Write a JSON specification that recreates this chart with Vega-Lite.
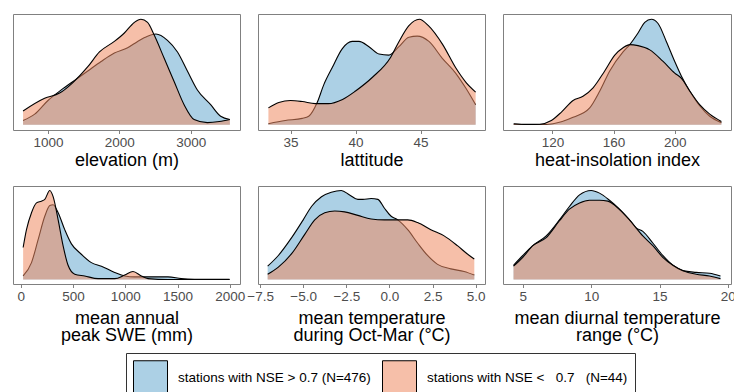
{
"$schema": "https://vega.github.io/schema/vega-lite/v6.json",
"padding": {"left": 12, "top": 13, "right": 0, "bottom": 0},
"bounds": "flush",
"columns": 3,
"spacing": {"row": 56, "column": 18},
"datasets": {
"d": [
{"p":"elev","g":"hi","x":651,"y":0.04},{"p":"elev","g":"hi","x":814,"y":0.10},{"p":"elev","g":"hi","x":1000,"y":0.23},{"p":"elev","g":"hi","x":1186,"y":0.33},{"p":"elev","g":"hi","x":1372,"y":0.42},{"p":"elev","g":"hi","x":1558,"y":0.51},{"p":"elev","g":"hi","x":1744,"y":0.60},{"p":"elev","g":"hi","x":1930,"y":0.68},{"p":"elev","g":"hi","x":2116,"y":0.73},{"p":"elev","g":"hi","x":2256,"y":0.79},{"p":"elev","g":"hi","x":2395,"y":0.84},{"p":"elev","g":"hi","x":2512,"y":0.86},{"p":"elev","g":"hi","x":2674,"y":0.80},{"p":"elev","g":"hi","x":2814,"y":0.69},{"p":"elev","g":"hi","x":2953,"y":0.51},{"p":"elev","g":"hi","x":3093,"y":0.33},{"p":"elev","g":"hi","x":3279,"y":0.19},{"p":"elev","g":"hi","x":3419,"y":0.08},{"p":"elev","g":"hi","x":3548,"y":0.05},
{"p":"elev","g":"lo","x":651,"y":0.13},{"p":"elev","g":"lo","x":953,"y":0.25},{"p":"elev","g":"lo","x":1163,"y":0.30},{"p":"elev","g":"lo","x":1349,"y":0.40},{"p":"elev","g":"lo","x":1558,"y":0.55},{"p":"elev","g":"lo","x":1721,"y":0.69},{"p":"elev","g":"lo","x":1930,"y":0.79},{"p":"elev","g":"lo","x":2070,"y":0.87},{"p":"elev","g":"lo","x":2209,"y":0.97},{"p":"elev","g":"lo","x":2302,"y":1.0},{"p":"elev","g":"lo","x":2395,"y":0.97},{"p":"elev","g":"lo","x":2488,"y":0.85},{"p":"elev","g":"lo","x":2628,"y":0.63},{"p":"elev","g":"lo","x":2767,"y":0.41},{"p":"elev","g":"lo","x":2907,"y":0.19},{"p":"elev","g":"lo","x":3047,"y":0.05},{"p":"elev","g":"lo","x":3233,"y":0.02},{"p":"elev","g":"lo","x":3400,"y":0.03},{"p":"elev","g":"lo","x":3548,"y":0.05},
{"p":"lat","g":"hi","x":33.3,"y":0.01},{"p":"lat","g":"hi","x":34.6,"y":0.04},{"p":"lat","g":"hi","x":35.9,"y":0.06},{"p":"lat","g":"hi","x":36.4,"y":0.08},{"p":"lat","g":"hi","x":37.05,"y":0.21},{"p":"lat","g":"hi","x":37.56,"y":0.38},{"p":"lat","g":"hi","x":38.2,"y":0.54},{"p":"lat","g":"hi","x":38.97,"y":0.72},{"p":"lat","g":"hi","x":39.74,"y":0.79},{"p":"lat","g":"hi","x":40.26,"y":0.79},{"p":"lat","g":"hi","x":41.03,"y":0.74},{"p":"lat","g":"hi","x":41.8,"y":0.67},{"p":"lat","g":"hi","x":42.56,"y":0.66},{"p":"lat","g":"hi","x":43.33,"y":0.74},{"p":"lat","g":"hi","x":44.1,"y":0.83},{"p":"lat","g":"hi","x":44.74,"y":0.84},{"p":"lat","g":"hi","x":45.64,"y":0.79},{"p":"lat","g":"hi","x":46.67,"y":0.63},{"p":"lat","g":"hi","x":47.69,"y":0.49},{"p":"lat","g":"hi","x":48.46,"y":0.35},{"p":"lat","g":"hi","x":49.23,"y":0.19},
{"p":"lat","g":"lo","x":33.3,"y":0.16},{"p":"lat","g":"lo","x":34.1,"y":0.21},{"p":"lat","g":"lo","x":35.0,"y":0.23},{"p":"lat","g":"lo","x":35.9,"y":0.22},{"p":"lat","g":"lo","x":36.9,"y":0.20},{"p":"lat","g":"lo","x":37.9,"y":0.20},{"p":"lat","g":"lo","x":39.0,"y":0.24},{"p":"lat","g":"lo","x":40.0,"y":0.32},{"p":"lat","g":"lo","x":41.3,"y":0.45},{"p":"lat","g":"lo","x":42.7,"y":0.64},{"p":"lat","g":"lo","x":43.3,"y":0.78},{"p":"lat","g":"lo","x":44.1,"y":0.94},{"p":"lat","g":"lo","x":44.9,"y":1.0},{"p":"lat","g":"lo","x":45.6,"y":0.94},{"p":"lat","g":"lo","x":46.7,"y":0.76},{"p":"lat","g":"lo","x":47.7,"y":0.54},{"p":"lat","g":"lo","x":48.5,"y":0.40},{"p":"lat","g":"lo","x":49.23,"y":0.31},
{"p":"heat","g":"hi","x":94.7,"y":0.005},{"p":"heat","g":"hi","x":111.7,"y":0.002},{"p":"heat","g":"hi","x":120.4,"y":0.01},{"p":"heat","g":"hi","x":133.5,"y":0.07},{"p":"heat","g":"hi","x":144.4,"y":0.16},{"p":"heat","g":"hi","x":151,"y":0.32},{"p":"heat","g":"hi","x":157.5,"y":0.51},{"p":"heat","g":"hi","x":166.2,"y":0.69},{"p":"heat","g":"hi","x":170.6,"y":0.76},{"p":"heat","g":"hi","x":176,"y":0.87},{"p":"heat","g":"hi","x":180.4,"y":0.97},{"p":"heat","g":"hi","x":184.7,"y":1.0},{"p":"heat","g":"hi","x":189.1,"y":0.96},{"p":"heat","g":"hi","x":194.5,"y":0.79},{"p":"heat","g":"hi","x":200,"y":0.60},{"p":"heat","g":"hi","x":204.4,"y":0.46},{"p":"heat","g":"hi","x":209.8,"y":0.32},{"p":"heat","g":"hi","x":216.3,"y":0.18},{"p":"heat","g":"hi","x":222.9,"y":0.08},{"p":"heat","g":"hi","x":230.5,"y":0.02},
{"p":"heat","g":"lo","x":94.7,"y":0.01},{"p":"heat","g":"lo","x":103,"y":0.003},{"p":"heat","g":"lo","x":111.7,"y":0.005},{"p":"heat","g":"lo","x":119.3,"y":0.04},{"p":"heat","g":"lo","x":125.9,"y":0.12},{"p":"heat","g":"lo","x":133.5,"y":0.23},{"p":"heat","g":"lo","x":140,"y":0.27},{"p":"heat","g":"lo","x":146.6,"y":0.35},{"p":"heat","g":"lo","x":154.2,"y":0.51},{"p":"heat","g":"lo","x":160.8,"y":0.66},{"p":"heat","g":"lo","x":166.2,"y":0.73},{"p":"heat","g":"lo","x":170.6,"y":0.76},{"p":"heat","g":"lo","x":176,"y":0.75},{"p":"heat","g":"lo","x":183.7,"y":0.71},{"p":"heat","g":"lo","x":192.4,"y":0.60},{"p":"heat","g":"lo","x":200,"y":0.49},{"p":"heat","g":"lo","x":204.4,"y":0.44},{"p":"heat","g":"lo","x":209.8,"y":0.32},{"p":"heat","g":"lo","x":216.3,"y":0.19},{"p":"heat","g":"lo","x":222.9,"y":0.10},{"p":"heat","g":"lo","x":230.5,"y":0.03},
{"p":"swe","g":"hi","x":22,"y":0.04},{"p":"swe","g":"hi","x":102,"y":0.19},{"p":"swe","g":"hi","x":166,"y":0.45},{"p":"swe","g":"hi","x":229,"y":0.71},{"p":"swe","g":"hi","x":277,"y":0.83},{"p":"swe","g":"hi","x":309,"y":0.84},{"p":"swe","g":"hi","x":357,"y":0.75},{"p":"swe","g":"hi","x":420,"y":0.56},{"p":"swe","g":"hi","x":484,"y":0.40},{"p":"swe","g":"hi","x":564,"y":0.30},{"p":"swe","g":"hi","x":675,"y":0.19},{"p":"swe","g":"hi","x":771,"y":0.15},{"p":"swe","g":"hi","x":898,"y":0.08},{"p":"swe","g":"hi","x":994,"y":0.04},{"p":"swe","g":"hi","x":1089,"y":0.03},{"p":"swe","g":"hi","x":1248,"y":0.03},{"p":"swe","g":"hi","x":1408,"y":0.03},{"p":"swe","g":"hi","x":1535,"y":0.01},{"p":"swe","g":"hi","x":1662,"y":0.003},{"p":"swe","g":"hi","x":1997,"y":0.002},
{"p":"swe","g":"lo","x":22,"y":0.36},{"p":"swe","g":"lo","x":54,"y":0.56},{"p":"swe","g":"lo","x":102,"y":0.75},{"p":"swe","g":"lo","x":150,"y":0.86},{"p":"swe","g":"lo","x":197,"y":0.88},{"p":"swe","g":"lo","x":229,"y":0.90},{"p":"swe","g":"lo","x":277,"y":1.0},{"p":"swe","g":"lo","x":309,"y":0.93},{"p":"swe","g":"lo","x":357,"y":0.67},{"p":"swe","g":"lo","x":404,"y":0.38},{"p":"swe","g":"lo","x":452,"y":0.16},{"p":"swe","g":"lo","x":516,"y":0.06},{"p":"swe","g":"lo","x":611,"y":0.04},{"p":"swe","g":"lo","x":739,"y":0.01},{"p":"swe","g":"lo","x":898,"y":0.01},{"p":"swe","g":"lo","x":994,"y":0.05},{"p":"swe","g":"lo","x":1073,"y":0.09},{"p":"swe","g":"lo","x":1153,"y":0.04},{"p":"swe","g":"lo","x":1217,"y":0.01},{"p":"swe","g":"lo","x":1408,"y":0.0},{"p":"swe","g":"lo","x":1997,"y":0.0},
{"p":"temp","g":"hi","x":-7.06,"y":0.15},{"p":"temp","g":"hi","x":-6.44,"y":0.27},{"p":"temp","g":"hi","x":-5.67,"y":0.47},{"p":"temp","g":"hi","x":-5.0,"y":0.67},{"p":"temp","g":"hi","x":-4.52,"y":0.82},{"p":"temp","g":"hi","x":-3.94,"y":0.93},{"p":"temp","g":"hi","x":-3.37,"y":0.98},{"p":"temp","g":"hi","x":-2.79,"y":1.0},{"p":"temp","g":"hi","x":-2.31,"y":0.95},{"p":"temp","g":"hi","x":-1.83,"y":0.90},{"p":"temp","g":"hi","x":-1.54,"y":0.90},{"p":"temp","g":"hi","x":-1.06,"y":0.91},{"p":"temp","g":"hi","x":-0.67,"y":0.90},{"p":"temp","g":"hi","x":-0.29,"y":0.80},{"p":"temp","g":"hi","x":0.10,"y":0.71},{"p":"temp","g":"hi","x":0.48,"y":0.67},{"p":"temp","g":"hi","x":1.06,"y":0.56},{"p":"temp","g":"hi","x":1.63,"y":0.41},{"p":"temp","g":"hi","x":2.21,"y":0.27},{"p":"temp","g":"hi","x":2.79,"y":0.17},{"p":"temp","g":"hi","x":3.56,"y":0.12},{"p":"temp","g":"hi","x":4.33,"y":0.09},{"p":"temp","g":"hi","x":4.92,"y":0.05},
{"p":"temp","g":"lo","x":-7.06,"y":0.06},{"p":"temp","g":"lo","x":-6.44,"y":0.14},{"p":"temp","g":"lo","x":-5.67,"y":0.29},{"p":"temp","g":"lo","x":-4.9,"y":0.51},{"p":"temp","g":"lo","x":-4.33,"y":0.67},{"p":"temp","g":"lo","x":-3.75,"y":0.75},{"p":"temp","g":"lo","x":-3.17,"y":0.77},{"p":"temp","g":"lo","x":-2.6,"y":0.76},{"p":"temp","g":"lo","x":-1.83,"y":0.72},{"p":"temp","g":"lo","x":-1.06,"y":0.68},{"p":"temp","g":"lo","x":-0.29,"y":0.67},{"p":"temp","g":"lo","x":0.48,"y":0.67},{"p":"temp","g":"lo","x":1.06,"y":0.67},{"p":"temp","g":"lo","x":1.63,"y":0.64},{"p":"temp","g":"lo","x":2.4,"y":0.56},{"p":"temp","g":"lo","x":3.17,"y":0.49},{"p":"temp","g":"lo","x":3.94,"y":0.38},{"p":"temp","g":"lo","x":4.5,"y":0.29},{"p":"temp","g":"lo","x":4.92,"y":0.23},
{"p":"dtr","g":"hi","x":4.32,"y":0.16},{"p":"dtr","g":"hi","x":5.0,"y":0.27},{"p":"dtr","g":"hi","x":5.73,"y":0.38},{"p":"dtr","g":"hi","x":6.71,"y":0.49},{"p":"dtr","g":"hi","x":7.68,"y":0.67},{"p":"dtr","g":"hi","x":8.41,"y":0.82},{"p":"dtr","g":"hi","x":9.15,"y":0.95},{"p":"dtr","g":"hi","x":10.0,"y":1.0},{"p":"dtr","g":"hi","x":10.61,"y":0.97},{"p":"dtr","g":"hi","x":11.34,"y":0.89},{"p":"dtr","g":"hi","x":12.07,"y":0.79},{"p":"dtr","g":"hi","x":12.8,"y":0.67},{"p":"dtr","g":"hi","x":13.29,"y":0.58},{"p":"dtr","g":"hi","x":13.78,"y":0.54},{"p":"dtr","g":"hi","x":14.51,"y":0.41},{"p":"dtr","g":"hi","x":15.24,"y":0.27},{"p":"dtr","g":"hi","x":15.98,"y":0.16},{"p":"dtr","g":"hi","x":16.71,"y":0.10},{"p":"dtr","g":"hi","x":17.68,"y":0.08},{"p":"dtr","g":"hi","x":18.66,"y":0.07},{"p":"dtr","g":"hi","x":19.46,"y":0.04},
{"p":"dtr","g":"lo","x":4.32,"y":0.15},{"p":"dtr","g":"lo","x":5.0,"y":0.25},{"p":"dtr","g":"lo","x":5.73,"y":0.38},{"p":"dtr","g":"lo","x":6.71,"y":0.47},{"p":"dtr","g":"lo","x":7.68,"y":0.66},{"p":"dtr","g":"lo","x":8.41,"y":0.79},{"p":"dtr","g":"lo","x":9.15,"y":0.86},{"p":"dtr","g":"lo","x":9.88,"y":0.89},{"p":"dtr","g":"lo","x":10.61,"y":0.89},{"p":"dtr","g":"lo","x":11.22,"y":0.88},{"p":"dtr","g":"lo","x":11.83,"y":0.82},{"p":"dtr","g":"lo","x":12.8,"y":0.67},{"p":"dtr","g":"lo","x":13.78,"y":0.49},{"p":"dtr","g":"lo","x":14.51,"y":0.38},{"p":"dtr","g":"lo","x":15.24,"y":0.25},{"p":"dtr","g":"lo","x":15.98,"y":0.16},{"p":"dtr","g":"lo","x":16.71,"y":0.10},{"p":"dtr","g":"lo","x":17.68,"y":0.06},{"p":"dtr","g":"lo","x":18.66,"y":0.04},{"p":"dtr","g":"lo","x":19.46,"y":0.01}
]
},
"data": {"name": "d"},
"resolve": {"scale": {"x": "independent", "y": "independent", "fill": "shared"}},
"concat": [
{"width": 227, "height": 116, "transform": [{"filter": "datum.p=='elev'"}],
 "encoding": {"x": {"field": "x", "type": "quantitative", "scale": {"domain": [510, 3690], "nice": false, "zero": false}, "axis": {"values": [1000, 2000, 3000], "format": "d", "title": "elevation (m)"}},
   "y": {"field": "y", "type": "quantitative", "scale": {"domain": [-0.05, 1.05], "nice": false, "zero": false}, "axis": null}},
 "layer": [
  {"transform": [{"filter": "datum.g=='hi'"}], "mark": {"type": "area", "interpolate": "monotone", "fillOpacity": 0.55}, "encoding": {"y2": {"datum": 0}, "fill": {"field": "g", "type": "nominal", "scale": {"domain": ["hi", "lo"], "range": ["#67a9cf", "#ef8a62"]},
     "legend": {"title": null, "orient": "none", "legendX": 113, "legendY": 339, "direction": "horizontal",
       "labelExpr": "datum.value=='hi' ? 'stations with NSE > 0.7 (N=476)' : 'stations with NSE <\u00a0\u00a0 0.7\u00a0\u00a0 (N=44)'",
       "symbolType": "square", "symbolSize": 1156, "symbolOpacity": 1, "symbolStrokeColor": "black", "symbolStrokeWidth": 1,
       "labelFont": "Liberation Sans", "labelFontSize": 13.5, "labelColor": "black", "labelOffset": 10, "columnPadding": 9, "labelLimit": 400,
       "padding": 7, "strokeColor": "#333333",
       "encode": {"symbols": {"update": {"fillOpacity": {"value": 0.55}, "strokeOpacity": {"value": 1}, "stroke": {"value": "black"}}}}}}}},
  {"transform": [{"filter": "datum.g=='hi'"}], "mark": {"type": "line", "interpolate": "monotone", "color": "black", "strokeWidth": 1.1}, "encoding": {}},
  {"transform": [{"filter": "datum.g=='lo'"}], "mark": {"type": "area", "interpolate": "monotone", "fillOpacity": 0.55}, "encoding": {"y2": {"datum": 0}, "fill": {"field": "g", "type": "nominal"}}},
  {"transform": [{"filter": "datum.g=='lo'"}], "mark": {"type": "line", "interpolate": "monotone", "color": "black", "strokeWidth": 1.1}, "encoding": {}}
 ]},
{"width": 227, "height": 116, "transform": [{"filter": "datum.p=='lat'"}],
 "encoding": {"x": {"field": "x", "type": "quantitative", "scale": {"domain": [32.5, 49.95], "nice": false, "zero": false}, "axis": {"values": [35, 40, 45], "title": "lattitude"}},
   "y": {"field": "y", "type": "quantitative", "scale": {"domain": [-0.05, 1.05], "nice": false, "zero": false}, "axis": null}},
 "layer": [
  {"transform": [{"filter": "datum.g=='hi'"}], "mark": {"type": "area", "interpolate": "monotone", "fillOpacity": 0.55}, "encoding": {"y2": {"datum": 0}, "fill": {"field": "g", "type": "nominal"}}},
  {"transform": [{"filter": "datum.g=='hi'"}], "mark": {"type": "line", "interpolate": "monotone", "color": "black", "strokeWidth": 1.1}, "encoding": {}},
  {"transform": [{"filter": "datum.g=='lo'"}], "mark": {"type": "area", "interpolate": "monotone", "fillOpacity": 0.55}, "encoding": {"y2": {"datum": 0}, "fill": {"field": "g", "type": "nominal"}}},
  {"transform": [{"filter": "datum.g=='lo'"}], "mark": {"type": "line", "interpolate": "monotone", "color": "black", "strokeWidth": 1.1}, "encoding": {}}
 ]},
{"width": 228, "height": 116, "transform": [{"filter": "datum.p=='heat'"}],
 "encoding": {"x": {"field": "x", "type": "quantitative", "scale": {"domain": [87.7, 236.8], "nice": false, "zero": false}, "axis": {"values": [120, 160, 200], "title": "heat-insolation index"}},
   "y": {"field": "y", "type": "quantitative", "scale": {"domain": [-0.05, 1.05], "nice": false, "zero": false}, "axis": null}},
 "layer": [
  {"transform": [{"filter": "datum.g=='hi'"}], "mark": {"type": "area", "interpolate": "monotone", "fillOpacity": 0.55}, "encoding": {"y2": {"datum": 0}, "fill": {"field": "g", "type": "nominal"}}},
  {"transform": [{"filter": "datum.g=='hi'"}], "mark": {"type": "line", "interpolate": "monotone", "color": "black", "strokeWidth": 1.1}, "encoding": {}},
  {"transform": [{"filter": "datum.g=='lo'"}], "mark": {"type": "area", "interpolate": "monotone", "fillOpacity": 0.55}, "encoding": {"y2": {"datum": 0}, "fill": {"field": "g", "type": "nominal"}}},
  {"transform": [{"filter": "datum.g=='lo'"}], "mark": {"type": "line", "interpolate": "monotone", "color": "black", "strokeWidth": 1.1}, "encoding": {}}
 ]},
{"width": 227, "height": 98, "transform": [{"filter": "datum.p=='swe'"}],
 "encoding": {"x": {"field": "x", "type": "quantitative", "scale": {"domain": [-75, 2097], "nice": false, "zero": false}, "axis": {"values": [0, 500, 1000, 1500, 2000], "format": "d", "titlePadding": 6, "title": ["mean annual", "peak SWE (mm)"]}},
   "y": {"field": "y", "type": "quantitative", "scale": {"domain": [-0.05, 1.05], "nice": false, "zero": false}, "axis": null}},
 "layer": [
  {"transform": [{"filter": "datum.g=='hi'"}], "mark": {"type": "area", "interpolate": "monotone", "fillOpacity": 0.55}, "encoding": {"y2": {"datum": 0}, "fill": {"field": "g", "type": "nominal"}}},
  {"transform": [{"filter": "datum.g=='hi'"}], "mark": {"type": "line", "interpolate": "monotone", "color": "black", "strokeWidth": 1.1}, "encoding": {}},
  {"transform": [{"filter": "datum.g=='lo'"}], "mark": {"type": "area", "interpolate": "monotone", "fillOpacity": 0.55}, "encoding": {"y2": {"datum": 0}, "fill": {"field": "g", "type": "nominal"}}},
  {"transform": [{"filter": "datum.g=='lo'"}], "mark": {"type": "line", "interpolate": "monotone", "color": "black", "strokeWidth": 1.1}, "encoding": {}}
 ]},
{"width": 227, "height": 98, "transform": [{"filter": "datum.p=='temp'"}],
 "encoding": {"x": {"field": "x", "type": "quantitative", "scale": {"domain": [-7.62, 5.54], "nice": false, "zero": false}, "axis": {"values": [-7.5, -5, -2.5, 0, 2.5, 5], "format": ".1f", "titlePadding": 6, "title": ["mean temperature", "during Oct-Mar (°C)"]}},
   "y": {"field": "y", "type": "quantitative", "scale": {"domain": [-0.05, 1.05], "nice": false, "zero": false}, "axis": null}},
 "layer": [
  {"transform": [{"filter": "datum.g=='hi'"}], "mark": {"type": "area", "interpolate": "monotone", "fillOpacity": 0.55}, "encoding": {"y2": {"datum": 0}, "fill": {"field": "g", "type": "nominal"}}},
  {"transform": [{"filter": "datum.g=='hi'"}], "mark": {"type": "line", "interpolate": "monotone", "color": "black", "strokeWidth": 1.1}, "encoding": {}},
  {"transform": [{"filter": "datum.g=='lo'"}], "mark": {"type": "area", "interpolate": "monotone", "fillOpacity": 0.55}, "encoding": {"y2": {"datum": 0}, "fill": {"field": "g", "type": "nominal"}}},
  {"transform": [{"filter": "datum.g=='lo'"}], "mark": {"type": "line", "interpolate": "monotone", "color": "black", "strokeWidth": 1.1}, "encoding": {}}
 ]},
{"width": 228, "height": 98, "transform": [{"filter": "datum.p=='dtr'"}],
 "encoding": {"x": {"field": "x", "type": "quantitative", "scale": {"domain": [3.55, 20.23], "nice": false, "zero": false}, "axis": {"values": [5, 10, 15, 20], "titlePadding": 6, "title": ["mean diurnal temperature", "range (°C)"]}},
   "y": {"field": "y", "type": "quantitative", "scale": {"domain": [-0.05, 1.05], "nice": false, "zero": false}, "axis": null}},
 "layer": [
  {"transform": [{"filter": "datum.g=='hi'"}], "mark": {"type": "area", "interpolate": "monotone", "fillOpacity": 0.55}, "encoding": {"y2": {"datum": 0}, "fill": {"field": "g", "type": "nominal"}}},
  {"transform": [{"filter": "datum.g=='hi'"}], "mark": {"type": "line", "interpolate": "monotone", "color": "black", "strokeWidth": 1.1}, "encoding": {}},
  {"transform": [{"filter": "datum.g=='lo'"}], "mark": {"type": "area", "interpolate": "monotone", "fillOpacity": 0.55}, "encoding": {"y2": {"datum": 0}, "fill": {"field": "g", "type": "nominal"}}},
  {"transform": [{"filter": "datum.g=='lo'"}], "mark": {"type": "line", "interpolate": "monotone", "color": "black", "strokeWidth": 1.1}, "encoding": {}}
 ]}
],
"config": {
  "view": {"stroke": "#808080", "strokeWidth": 1},
  "axis": {"domain": false, "grid": false, "ticks": true, "tickColor": "#808080", "tickSize": 3.5, "tickWidth": 1,
    "labelColor": "#4d4d4d", "labelFontSize": 13.5, "labelFont": "Liberation Sans", "labelPadding": 2, "labelFlush": false, "labelOverlap": false, "labelBound": false,
    "titleFont": "Liberation Sans", "titleFontSize": 18, "titleFontWeight": "normal", "titleColor": "black", "titlePadding": 2, "titleLineHeight": 17}
}
}
